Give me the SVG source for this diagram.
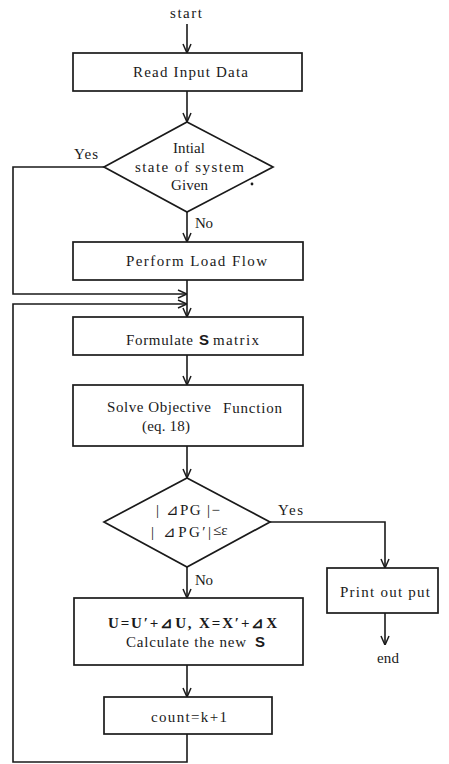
<svg xmlns="http://www.w3.org/2000/svg" width="449" height="764" viewBox="0 0 449 764">
  <style>
    .box { fill: #ffffff; stroke: #1a1a1a; stroke-width: 1.7; }
    .ln { fill: none; stroke: #1a1a1a; stroke-width: 1.6; }
    .t { font-family: "Liberation Serif", "DejaVu Serif", serif; font-size: 15px; fill: #1a1a1a; }
    .b { font-weight: bold; }
    .s { font-family: "Liberation Sans", "DejaVu Sans", sans-serif; font-weight: bold; font-size: 15px; fill: #1a1a1a; }
  </style>
  <defs>
    <marker id="arr" viewBox="0 0 10 10" refX="10" refY="5" markerWidth="10" markerHeight="10" markerUnits="userSpaceOnUse" orient="auto">
      <polyline points="1,1 10,5 1,9" fill="none" stroke="#1a1a1a" stroke-width="1.5"/>
    </marker>
  </defs>
  <rect width="449" height="764" fill="#ffffff"/>

  <!-- connectors -->
  <g id="connectors">
    <line class="ln" x1="187" y1="24" x2="187" y2="53" marker-end="url(#arr)"/>
    <line class="ln" x1="187" y1="91" x2="187" y2="122" marker-end="url(#arr)"/>
    <line class="ln" x1="187" y1="212" x2="187" y2="242" marker-end="url(#arr)"/>
    <line class="ln" x1="187" y1="280" x2="187" y2="317" marker-end="url(#arr)"/>
    <polyline class="ln" points="104,167 13,167 13,294 187,294" marker-end="url(#arr)"/>
    <polyline class="ln" points="187,734 187,762 13,762 13,304 187,304" marker-end="url(#arr)"/>
    <line class="ln" x1="187" y1="355" x2="187" y2="385" marker-end="url(#arr)"/>
    <line class="ln" x1="187" y1="446" x2="187" y2="478" marker-end="url(#arr)"/>
    <line class="ln" x1="187" y1="567" x2="187" y2="598" marker-end="url(#arr)"/>
    <polyline class="ln" points="270,522 385,522 385,568" marker-end="url(#arr)"/>
    <line class="ln" x1="385" y1="613" x2="385" y2="645" marker-end="url(#arr)"/>
    <line class="ln" x1="187" y1="665" x2="187" y2="697" marker-end="url(#arr)"/>
    <text class="t" x="74" y="159" textLength="24" lengthAdjust="spacing">Yes</text>
    <text class="t" x="195" y="228" textLength="18" lengthAdjust="spacing">No</text>
    <text class="t" x="278" y="515" textLength="25" lengthAdjust="spacing">Yes</text>
    <text class="t" x="195" y="585" textLength="18" lengthAdjust="spacing">No</text>
  </g>

  <g id="start">
    <text class="t" x="170" y="18" textLength="32" lengthAdjust="spacing">start</text>
  </g>

  <g id="read-input">
    <rect class="box" x="73" y="53" width="229" height="38"/>
    <text class="t" x="133" y="77" textLength="115" lengthAdjust="spacing">Read Input Data</text>
  </g>

  <g id="initial-state">
    <polygon class="box" points="187,122 273,167 187,212 104,167"/>
    <text class="t" x="173" y="153" textLength="32" lengthAdjust="spacing">Intial</text>
    <text class="t" x="135" y="172" textLength="109" lengthAdjust="spacing">state of system</text>
    <text class="t" x="171" y="190" textLength="37" lengthAdjust="spacing">Given</text>
    <circle cx="252" cy="184" r="1.4" fill="#1a1a1a"/>
  </g>

  <g id="load-flow">
    <rect class="box" x="73" y="242" width="230" height="38"/>
    <text class="t" x="126" y="266" textLength="141" lengthAdjust="spacing">Perform Load Flow</text>
  </g>

  <g id="formulate-s">
    <rect class="box" x="73" y="317" width="230" height="38"/>
    <text class="t" x="126" y="345" textLength="67" lengthAdjust="spacing">Formulate</text>
    <text class="s" x="199" y="345">S</text>
    <text class="t" x="213" y="345" textLength="46" lengthAdjust="spacing">matrix</text>
  </g>

  <g id="solve-objective">
    <rect class="box" x="73" y="385" width="230" height="61"/>
    <text class="t" x="107" y="412" textLength="104" lengthAdjust="spacing">Solve Objective</text>
    <text class="t" x="223" y="413" textLength="59" lengthAdjust="spacing">Function</text>
    <text class="t" x="142" y="431" textLength="48" lengthAdjust="spacing">(eq. 18)</text>
  </g>

  <g id="convergence">
    <polygon class="box" points="187,478 270,522 187,567 104,522"/>
    <text class="t" x="156" y="515" textLength="64" lengthAdjust="spacing">| ⊿PG |−</text>
    <text class="t" x="151" y="537" textLength="60" lengthAdjust="spacing">| ⊿PG′|</text>
    <text class="t" x="213" y="535" font-size="13">≤ε</text>
  </g>

  <g id="print-output">
    <rect class="box" x="327" y="568" width="111" height="45"/>
    <text class="t" x="340" y="597" textLength="90" lengthAdjust="spacing">Print out put</text>
  </g>

  <g id="end">
    <text class="t" x="377" y="663" textLength="22" lengthAdjust="spacing">end</text>
  </g>

  <g id="update">
    <rect class="box" x="74" y="598" width="229" height="67"/>
    <text class="t b" x="108" y="628" textLength="169" lengthAdjust="spacing">U=U′+⊿U,  X=X′+⊿X</text>
    <text class="t" x="126" y="647" textLength="120" lengthAdjust="spacing">Calculate the new</text>
    <text class="s" x="255" y="647">S</text>
  </g>

  <g id="count">
    <rect class="box" x="104" y="697" width="168" height="37"/>
    <text class="t" x="151" y="722" textLength="76" lengthAdjust="spacing">count=k+1</text>
  </g>
</svg>
